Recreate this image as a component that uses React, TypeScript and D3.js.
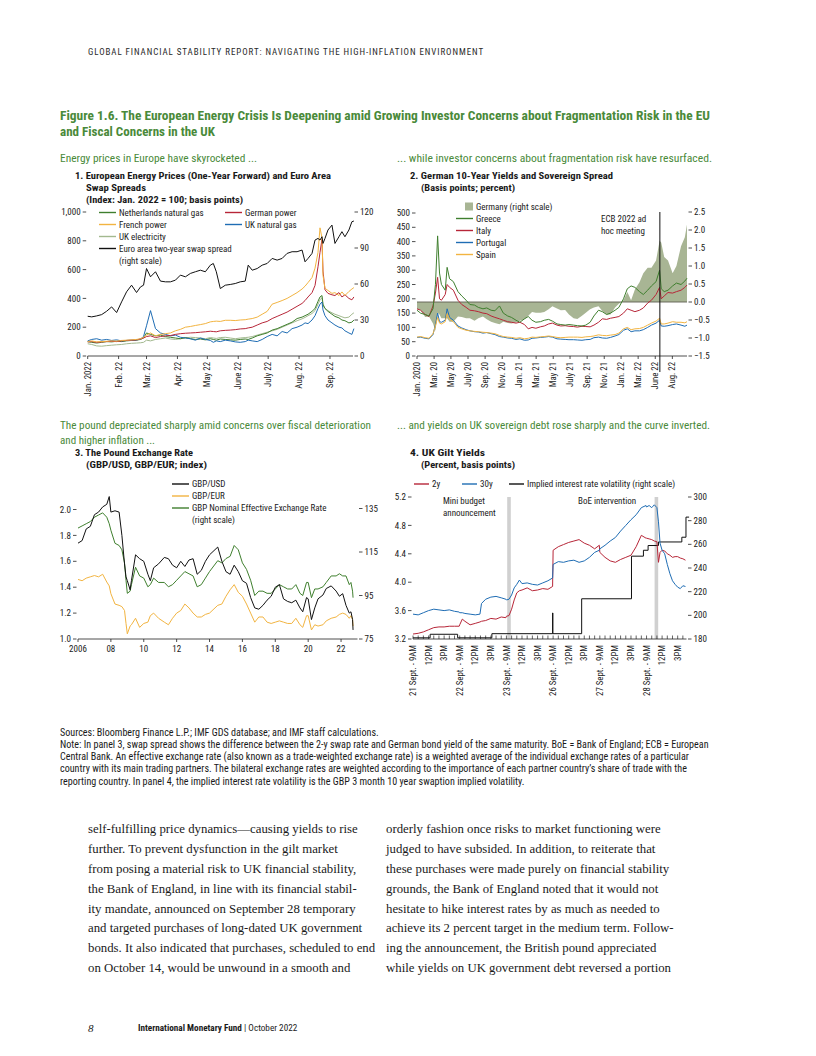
import React from "react";
import * as d3 from "d3";

const FONT = "'Liberation Sans Narrow','Arial Narrow','Roboto Condensed','DejaVu Sans Condensed','Liberation Sans',sans-serif";
const SERIF = "'Liberation Serif','DejaVu Serif',serif";
const GREEN_TXT = "#4a8a3a";
const C_GREEN = "#3f7f2e";
const C_ORANGE = "#f2b441";
const C_LIGHT = "#a3b98f";
const C_RED = "#b72638";
const C_BLUE = "#1f6db4";
const C_AREA = "#a8b594";
const C_GRAYBAND = "#d0d0d0";

const parse = d3.timeParse("%Y-%m-%d");

// ---------------- Panel 1: European energy prices (index) and swap spread (bp) ----------------
const p1Dates = [
  "2022-01-01","2022-01-05","2022-01-10","2022-01-15","2022-01-20","2022-01-25","2022-01-30",
  "2022-02-04","2022-02-09","2022-02-14","2022-02-19","2022-02-23","2022-02-26",
  "2022-03-01","2022-03-05","2022-03-10","2022-03-15","2022-03-20","2022-03-25","2022-03-30",
  "2022-04-04","2022-04-09","2022-04-14","2022-04-19","2022-04-24","2022-04-29",
  "2022-05-04","2022-05-07","2022-05-10","2022-05-14","2022-05-19","2022-05-24","2022-05-29",
  "2022-06-03","2022-06-08","2022-06-11","2022-06-15","2022-06-20","2022-06-25","2022-06-30",
  "2022-07-05","2022-07-10","2022-07-15","2022-07-20","2022-07-25","2022-07-30",
  "2022-08-04","2022-08-07","2022-08-10","2022-08-14","2022-08-17","2022-08-20","2022-08-22","2022-08-24","2022-08-25","2022-08-27","2022-08-30",
  "2022-09-03","2022-09-06","2022-09-10","2022-09-13","2022-09-16","2022-09-20","2022-09-23","2022-09-25"
];
const p1NetherlandsGas = [
  100,95,90,95,100,98,102,100,105,108,
  110,115,125,160,150,140,145,135,130,125,
  120,128,120,115,118,112,120,115,110,118,
  115,112,110,115,118,115,125,140,150,160,
  180,190,205,220,235,260,270,280,290,310,
  330,380,410,420,360,330,310,290,275,265,
  250,245,230,235,250
];
const p1FrenchPower = [
  100,105,98,100,102,105,103,108,110,112,
  115,120,130,145,160,140,150,155,160,175,
  185,200,205,212,218,225,237,240,242,240,
  248,248,246,250,252,256,260,270,290,310,
  360,372,385,400,420,440,465,485,510,545,
  610,720,890,820,560,470,455,435,440,420,
  445,420,448,465,475
];
const p1UkElectricity = [
  85,80,70,68,72,75,78,80,85,88,
  90,92,95,110,105,115,120,125,118,115,
  120,125,130,128,125,120,128,125,122,128,
  130,125,120,125,128,130,135,145,155,165,
  175,185,200,215,230,245,258,268,280,295,
  315,360,390,405,350,330,315,300,290,280,
  272,265,270,290,300
];
const p1GermanPower = [
  98,100,95,98,100,102,100,105,108,110,
  112,118,125,135,140,128,135,140,142,150,
  155,158,160,162,165,168,172,170,168,175,
  178,180,183,188,190,195,200,215,230,240,
  260,275,290,305,325,345,365,385,410,440,
  490,620,720,810,590,460,435,425,420,440,
  410,425,400,390,410
];
const p1UkGas = [
  105,115,120,110,115,108,112,105,108,110,
  112,118,135,210,315,190,160,150,140,145,
  130,125,120,110,125,115,108,95,105,100,
  110,105,98,95,100,110,105,100,115,135,
  150,140,170,160,190,200,215,230,225,250,
  280,330,360,375,320,280,250,230,215,200,
  195,175,160,150,190
];
const p1SwapSpread = [
  33.1,32.6,33.4,34.5,37.3,40.9,36.2,45.1,53.5,59.0,
  52.9,57.6,59.0,72.9,66.0,70.2,62.4,61.8,61.8,63.2,
  67.4,66.0,68.8,70.2,71.5,70.2,75.7,77.1,70.2,56.2,
  59.0,59.6,60.4,61.8,62.4,75.7,71.5,72.9,75.7,77.1,
  81.3,79.9,81.3,85.5,86.9,86.9,88.3,78.5,81.3,85.5,
  96.6,98.0,96.6,99.4,93.8,98.0,105.0,109.1,93.8,99.4,
  103.6,99.4,105.0,111.9,112.5
];
const p1MonthTicks = ["2022-01-01","2022-02-01","2022-03-01","2022-04-01","2022-05-01","2022-06-01","2022-07-01","2022-08-01","2022-09-01"];
const p1MonthLabels = ["Jan. 2022","Feb. 22","Mar. 22","Apr. 22","May 22","June 22","July 22","Aug. 22","Sep. 22"];
const p1LeftTicks = [0, 200, 400, 600, 800, 1000];
const p1RightTicks = [0, 30, 60, 90, 120];

// ---------------- Panel 2: German 10-year yield (%) and sovereign spreads (bp) ----------------
const p2Dates = [
  "2020-01-02","2020-01-15","2020-02-01","2020-02-15","2020-03-01","2020-03-10","2020-03-18","2020-03-25","2020-04-01","2020-04-15","2020-04-22","2020-05-01","2020-05-15","2020-06-01","2020-06-15","2020-07-01","2020-07-15","2020-08-01","2020-08-15","2020-09-01","2020-09-15","2020-10-01","2020-10-15","2020-11-01","2020-11-15","2020-12-01","2020-12-15",
  "2021-01-01","2021-01-15","2021-02-01","2021-02-15","2021-03-01","2021-03-15","2021-04-01","2021-04-15","2021-05-01","2021-05-15","2021-06-01","2021-06-15","2021-07-01","2021-07-15","2021-08-01","2021-08-15","2021-09-01","2021-09-15","2021-10-01","2021-10-15","2021-11-01","2021-11-15","2021-12-01","2021-12-15",
  "2022-01-01","2022-01-15","2022-02-01","2022-02-15","2022-03-01","2022-03-15","2022-04-01","2022-04-15","2022-05-01","2022-05-15","2022-06-01","2022-06-14","2022-06-20","2022-07-01","2022-07-15","2022-08-01","2022-08-15","2022-09-01","2022-09-15","2022-09-23"
];
const p2Germany = [
  -0.20,-0.22,-0.42,-0.40,-0.60,-0.80,-0.30,-0.35,-0.45,-0.45,-0.45,-0.55,-0.55,-0.40,-0.42,-0.45,-0.45,-0.52,-0.45,-0.40,-0.48,-0.55,-0.58,-0.62,-0.55,-0.58,-0.60,
  -0.57,-0.52,-0.48,-0.38,-0.28,-0.30,-0.30,-0.28,-0.20,-0.12,-0.18,-0.23,-0.22,-0.35,-0.45,-0.47,-0.38,-0.30,-0.20,-0.15,-0.12,-0.25,-0.35,-0.35,
  -0.15,-0.05,0.05,0.28,0.05,0.35,0.55,0.80,0.95,0.95,1.15,1.70,1.65,1.25,1.15,0.80,1.00,1.55,1.80,2.15
];
const p2Greece = [
  160,150,145,140,165,250,420,290,250,230,310,270,260,225,210,195,180,178,170,165,168,160,158,175,150,140,135,
  125,118,130,138,125,118,120,125,128,122,112,110,108,110,108,106,105,108,118,140,160,155,145,150,
  160,170,200,235,245,240,225,215,230,245,260,300,235,225,230,245,255,250,262,272
];
const p2Italy = [
  165,160,145,138,175,220,275,200,195,215,250,240,230,195,180,170,160,158,155,150,148,140,135,130,125,120,118,
  115,118,110,95,100,97,102,105,112,115,108,105,106,104,103,101,104,103,102,108,118,130,128,132,
  135,138,150,165,160,155,160,168,185,195,215,240,200,210,222,220,225,230,240,248
];
const p2Portugal = [
  65,66,62,60,75,110,150,120,118,125,165,135,125,105,98,92,88,85,84,80,82,78,75,68,66,63,62,
  58,60,55,56,62,63,65,66,68,66,60,59,58,57,57,56,55,57,58,64,66,63,62,65,
  70,75,90,95,85,88,88,92,100,108,115,125,105,104,106,110,112,108,104,108
];
const p2Spain = [
  66,68,64,62,78,105,135,115,112,120,148,128,120,100,95,90,88,86,85,83,82,80,78,72,68,66,65,
  62,64,60,62,66,65,67,68,70,68,65,64,65,66,66,66,65,67,68,70,74,72,71,73,
  75,80,95,100,92,95,96,100,108,115,122,132,112,112,115,120,118,118,116,120
];
const p2TickDates = ["2020-01-02","2020-03-05","2020-05-06","2020-07-08","2020-09-09","2020-11-11","2021-01-12","2021-03-16","2021-05-18","2021-07-19","2021-09-20","2021-11-22","2022-01-23","2022-03-27","2022-05-29","2022-07-31"];
const p2TickLabels = ["Jan. 2020","Mar. 20","May 20","July 20","Sep. 20","Nov. 20","Jan. 21","Mar. 21","May 21","July 21","Sep. 21","Nov. 21","Jan. 22","Mar. 22","June 22","Aug. 22"];
const p2LeftTicks = [0, 50, 100, 150, 200, 250, 300, 350, 400, 450, 500];
const p2RightTicks = [-1.5, -1.0, -0.5, 0, 0.5, 1.0, 1.5, 2.0, 2.5];
const p2EcbMeeting = "2022-06-15";

// ---------------- Panel 3: Pound exchange rate ----------------
const p3Years = [
  2006.0,2006.25,2006.5,2006.75,2007.0,2007.25,2007.5,2007.75,2007.9,
  2008.0,2008.25,2008.5,2008.67,2008.83,2008.92,
  2009.0,2009.17,2009.25,2009.5,2009.75,
  2010.0,2010.25,2010.4,2010.6,2010.9,
  2011.25,2011.5,2011.75,
  2012.0,2012.25,2012.5,2012.75,
  2013.0,2013.25,2013.5,2013.75,
  2014.0,2014.5,2014.75,
  2015.0,2015.25,2015.5,2015.75,
  2016.0,2016.25,2016.5,2016.75,
  2017.0,2017.25,2017.5,2017.75,
  2018.0,2018.25,2018.5,2018.75,
  2019.0,2019.25,2019.5,2019.67,2019.9,
  2020.0,2020.2,2020.4,2020.6,2020.9,
  2021.1,2021.4,2021.7,2021.9,
  2022.1,2022.3,2022.5,2022.6,2022.7,2022.73
];
const p3GbpUsd = [
  1.74,1.76,1.85,1.87,1.96,1.98,2.02,2.04,2.10,
  1.98,1.99,1.98,1.80,1.58,1.48,
  1.45,1.38,1.45,1.65,1.62,
  1.60,1.50,1.45,1.55,1.58,
  1.63,1.62,1.57,
  1.55,1.60,1.56,1.61,
  1.62,1.50,1.53,1.60,
  1.65,1.71,1.60,
  1.52,1.50,1.57,1.52,
  1.45,1.43,1.32,1.24,
  1.23,1.26,1.30,1.33,
  1.40,1.42,1.31,1.29,
  1.28,1.30,1.24,1.21,1.32,
  1.31,1.15,1.24,1.31,1.34,
  1.39,1.41,1.37,1.33,
  1.35,1.26,1.20,1.21,1.15,1.07
];
const p3GbpEur = [
  1.46,1.45,1.47,1.48,1.49,1.48,1.50,1.44,1.41,
  1.35,1.27,1.26,1.25,1.22,1.12,
  1.04,1.10,1.11,1.16,1.09,
  1.12,1.13,1.18,1.20,1.16,
  1.13,1.11,1.16,
  1.20,1.22,1.27,1.24,
  1.20,1.17,1.17,1.19,
  1.20,1.26,1.27,
  1.33,1.38,1.42,1.36,
  1.33,1.27,1.20,1.13,
  1.17,1.17,1.13,1.12,
  1.13,1.14,1.13,1.12,
  1.12,1.16,1.11,1.09,1.18,
  1.18,1.07,1.11,1.10,1.11,
  1.14,1.16,1.17,1.19,
  1.20,1.19,1.16,1.18,1.15,1.10
];
const p3Neer = [
  126,127,128,129,131,132,133,131,128,
  125,119,118,116,110,102,
  96,97,100,108,104,
  103,99,100,103,101,
  101,99,100,
  102,104,106,105,
  104,99,100,103,
  106,111,110,
  112,113,118,116,
  110,107,102,95,
  97,97,96,96,
  98,100,99,98,
  98,100,96,95,101,
  101,94,98,98,99,
  101,104,104,105,
  104,104,100,101,97,94
];
const p3TickYears = [2006, 2008, 2010, 2012, 2014, 2016, 2018, 2020, 2022];
const p3TickLabels = ["2006","08","10","12","14","16","18","20","22"];
const p3LeftTicks = [1.0, 1.2, 1.4, 1.6, 1.8, 2.0];
const p3RightTicks = [75, 95, 115, 135];

// ---------------- Panel 4: UK gilt yields (intraday, trading hours since 21 Sept 9AM) ----------------
const p4Hours = [
  0,1,2,3,4,5,6,7,8,8.9,
  9,9.5,10,11,12,12.9,13.2,14,15,16,17,17.9,
  18,18.5,19,19.5,20,20.5,21,22,23,24,25,26,26.9,
  27,28,29,30,31,32,33,34,35,35.9,
  36,37,38,39,40,41,42,43,44,44.9,
  45,45.5,46,46.5,47,47.3,47.6,48,48.5,49,49.5,50,50.5,51,51.5,52,52.5
];
const p4Yield2y = [
  3.27,3.28,3.30,3.33,3.36,3.37,3.37,3.38,3.38,3.38,
  3.40,3.48,3.45,3.40,3.42,3.44,3.45,3.46,3.49,3.48,3.51,3.50,
  3.52,3.53,3.62,3.75,3.85,3.88,3.89,3.92,3.88,3.89,3.91,3.90,3.94,
  4.45,4.50,4.53,4.56,4.58,4.60,4.55,4.52,4.47,4.52,
  4.42,4.35,4.30,4.28,4.32,4.35,4.38,4.50,4.66,4.62,
  4.62,4.61,4.60,4.58,4.57,4.28,4.42,4.45,4.44,4.40,4.38,4.35,4.36,4.36,4.34,4.33,4.31
];
const p4Yield30y = [
  3.55,3.54,3.57,3.60,3.62,3.61,3.60,3.61,3.59,3.58,
  3.57,3.57,3.56,3.55,3.54,3.55,3.70,3.76,3.79,3.80,3.78,3.76,
  3.75,3.76,3.82,3.92,3.97,4.03,3.98,3.99,3.97,3.96,3.99,4.02,4.06,
  4.25,4.29,4.28,4.30,4.31,4.28,4.30,4.35,4.42,4.45,
  4.47,4.52,4.58,4.63,4.72,4.80,4.88,4.95,5.05,5.08,
  5.06,5.08,5.05,5.09,5.05,4.85,4.55,4.45,4.40,4.25,4.12,4.02,3.97,3.93,3.91,3.95,3.94
];
const p4VolHours = [0, 3.3, 8.6, 15.2, 26.85, 26.9, 26.95, 32.5, 42.1, 44.4, 45.3, 47.3, 51.8, 52.6, 53.2];
const p4Vol = [181, 184, 181, 184.5, 184.5, 202, 184.5, 214, 250, 255, 259, 262, 266, 283, 283];
const p4LabelHours = [0,3,6,9,12,15,18,21,24,27,30,33,36,39,42,45,48,51];
const p4Labels = [
  "21 Sept. - 9AM","12PM","3PM","22 Sept. - 9AM","12PM","3PM","23 Sept. - 9AM","12PM","3PM",
  "26 Sept. - 9AM","12PM","3PM","27 Sept. - 9AM","12PM","3PM","28 Sept. - 9AM","12PM","3PM"
];
const p4LeftTicks = [3.2, 3.6, 4.0, 4.4, 4.8, 5.2];
const p4RightTicks = [180, 200, 220, 240, 260, 280, 300];
const p4MiniBudgetHour = 18.5;
const p4BoeHour = 46.9;

// ---------------- Text ----------------
const notes = [
  "Sources: Bloomberg Finance L.P.; IMF GDS database; and IMF staff calculations.",
  "Note: In panel 3, swap spread shows the difference between the 2-y swap rate and German bond yield of the same maturity. BoE = Bank of England; ECB = European",
  "Central Bank. An effective exchange rate (also known as a trade-weighted exchange rate) is a weighted average of the individual exchange rates of a particular",
  "country with its main trading partners. The bilateral exchange rates are weighted according to the importance of each partner country\u2019s share of trade with the",
  "reporting country. In panel 4, the implied interest rate volatility is the GBP 3 month 10 year swaption implied volatility."
];
const bodyLeft = [
  "self-fulfilling price dynamics\u2014causing yields to rise",
  "further. To prevent dysfunction in the gilt market",
  "from posing a material risk to UK financial stability,",
  "the Bank of England, in line with its financial stabil-",
  "ity mandate, announced on September 28 temporary",
  "and targeted purchases of long-dated UK government",
  "bonds. It also indicated that purchases, scheduled to end",
  "on October 14, would be unwound in a smooth and"
];
const bodyRight = [
  "orderly fashion once risks to market functioning were",
  "judged to have subsided. In addition, to reiterate that",
  "these purchases were made purely on financial stability",
  "grounds, the Bank of England noted that it would not",
  "hesitate to hike interest rates by as much as needed to",
  "achieve its 2 percent target in the medium term. Follow-",
  "ing the announcement, the British pound appreciated",
  "while yields on UK government debt reversed a portion"
];

// ---------------- helpers ----------------
function linePath(xv: any[], yv: number[], sx: any, sy: any, curve: any = d3.curveLinear) {
  const pts = xv.map((v, i) => [sx(v), sy(yv[i])] as [number, number]);
  return d3.line().curve(curve)(pts) || "";
}

function T(props: any) {
  const { x, y, children, size = 9, weight = "normal", anchor = "start", fill = "#1a1a1a", len, family = FONT, style, ls } = props;
  return (
    <text x={x} y={y} dy="0.35em" fontSize={size} fontWeight={weight} textAnchor={anchor} fill={fill}
      fontFamily={family} textLength={len} lengthAdjust={len ? "spacingAndGlyphs" : undefined} letterSpacing={ls} style={style}>
      {children}
    </text>
  );
}

function RotLabel({ x, y, text }: any) {
  return (
    <text transform={`translate(${x},${y}) rotate(-90)`} dy="0.35em" textAnchor="end" fontSize={8.8} fontFamily={FONT} fill="#1a1a1a">
      {text}
    </text>
  );
}

function LeftTicks({ x, sy, ticks, fmt }: any) {
  return (
    <g>
      {ticks.map((t: number) => (
        <g key={"l" + t}>
          <line x1={x - 5} x2={x - 1.5} y1={sy(t)} y2={sy(t)} stroke="#222" strokeWidth={0.8} />
          <T x={x - 7} y={sy(t)} anchor="end" size={9}>{fmt(t)}</T>
        </g>
      ))}
    </g>
  );
}
function RightTicks({ x, sy, ticks, fmt }: any) {
  return (
    <g>
      {ticks.map((t: number) => (
        <g key={"r" + t}>
          <line x1={x + 1.5} x2={x + 5} y1={sy(t)} y2={sy(t)} stroke="#222" strokeWidth={0.8} />
          <T x={x + 7} y={sy(t)} size={9}>{fmt(t)}</T>
        </g>
      ))}
    </g>
  );
}
function LegLine({ x, y, color, label, w = 17 }: any) {
  return (
    <g>
      <line x1={x} x2={x + w} y1={y} y2={y} stroke={color} strokeWidth={1.4} />
      <T x={x + w + 3} y={y} size={9}>{label}</T>
    </g>
  );
}

export default function App() {
  // ---- Panel 1 scales
  const p1x = d3.scaleTime().domain([parse("2022-01-01"), parse("2022-10-01")] as any).range([87.7, 87.7 + 273 * 0.997]);
  const p1yL = d3.scaleLinear().domain([0, 1000]).range([356, 212]);
  const p1yR = d3.scaleLinear().domain([0, 120]).range([356, 212]);
  const p1d = p1Dates.map((s) => parse(s));

  // ---- Panel 2 scales
  const p2x = d3.scaleTime().domain([parse("2020-01-02"), parse("2022-09-23")] as any).range([417, 687]);
  const p2yL = d3.scaleLinear().domain([0, 500]).range([356, 213]);
  const p2yR = d3.scaleLinear().domain([-1.5, 2.5]).range([356, 212]);
  const p2d = p2Dates.map((s) => parse(s));
  const germanyArea = d3.area<number>()
    .x((_, i) => p2x(p2d[i] as any))
    .y0(p2yR(0))
    .y1((v) => p2yR(v))(p2Germany) || "";

  // ---- Panel 3 scales
  const p3x = d3.scaleLinear().domain([2006, 2023]).range([78, 357.5]);
  const p3yL = d3.scaleLinear().domain([1.0, 2.0]).range([639, 509.5]);
  const p3yR = d3.scaleLinear().domain([75, 135]).range([639, 508.5]);

  // ---- Panel 4 scales
  const p4x = d3.scaleLinear().domain([0, 52.7]).range([413, 686.5]);
  const p4yL = d3.scaleLinear().domain([3.2, 5.2]).range([639, 497]);
  const p4yR = d3.scaleLinear().domain([180, 300]).range([639, 497]);

  const fmtComma = d3.format(",");
  const fmt1 = d3.format(".1f");
  const fmt0 = d3.format("d");

  return (
    <div style={{ position: "absolute", left: 0, top: 0, width: 816, height: 1056, background: "#fff" }}>
      <svg width={816} height={1056} viewBox="0 0 816 1056" style={{ display: "block" }}>
        <rect x={0} y={0} width={816} height={1056} fill="#fff" />

        {/* Header */}
        <T x={88} y={52} size={8.6} fill="#2a2a2a" ls={0.9} len={396}>GLOBAL FINANCIAL STABILITY REPORT: NAVIGATING THE HIGH-INFLATION ENVIRONMENT</T>

        {/* Figure title */}
        <T x={60} y={116} size={12.8} weight="bold" fill={GREEN_TXT} len={650}>Figure 1.6. The European Energy Crisis Is Deepening amid Growing Investor Concerns about Fragmentation Risk in the EU</T>
        <T x={60} y={132} size={12.8} weight="bold" fill={GREEN_TXT} len={155}>and Fiscal Concerns in the UK</T>

        {/* ================= Panel 1 ================= */}
        <T x={60} y={158} size={10.5} fill={GREEN_TXT} len={197}>Energy prices in Europe have skyrocketed ...</T>
        <T x={75} y={176} size={9.4} weight="bold" len={256}>1. European Energy Prices (One-Year Forward) and Euro Area</T>
        <T x={86} y={188} size={9.4} weight="bold" len={60}>Swap Spreads</T>
        <T x={86} y={200} size={9.4} weight="bold" len={157}>(Index: Jan. 2022 = 100; basis points)</T>

        <LeftTicks x={87.7} sy={p1yL} ticks={p1LeftTicks} fmt={fmtComma} />
        <RightTicks x={353} sy={p1yR} ticks={p1RightTicks} fmt={fmt0} />
        <line x1={87.7} x2={353} y1={356} y2={356} stroke="#222" strokeWidth={0.8} />
        {p1MonthTicks.map((m, i) => {
          const xx = p1x(parse(m) as any);
          return (
            <g key={m}>
              <line x1={xx} x2={xx} y1={356} y2={359} stroke="#222" strokeWidth={0.8} />
              <RotLabel x={xx} y={362} text={p1MonthLabels[i]} />
            </g>
          );
        })}
        <path d={linePath(p1d, p1UkElectricity, p1x, p1yL)} fill="none" stroke={C_LIGHT} strokeWidth={1} />
        <path d={linePath(p1d, p1NetherlandsGas, p1x, p1yL)} fill="none" stroke={C_GREEN} strokeWidth={1} />
        <path d={linePath(p1d, p1UkGas, p1x, p1yL)} fill="none" stroke={C_BLUE} strokeWidth={1} />
        <path d={linePath(p1d, p1GermanPower, p1x, p1yL)} fill="none" stroke={C_RED} strokeWidth={1} />
        <path d={linePath(p1d, p1FrenchPower, p1x, p1yL)} fill="none" stroke={C_ORANGE} strokeWidth={1} />
        <path d={linePath(p1d, p1SwapSpread, p1x, p1yR)} fill="none" stroke="#111" strokeWidth={1} />

        <LegLine x={99} y={212.5} color={C_GREEN} label="Netherlands natural gas" />
        <LegLine x={99} y={224.5} color={C_ORANGE} label="French power" />
        <LegLine x={99} y={236.5} color={C_LIGHT} label="UK electricity" />
        <LegLine x={99} y={248.5} color="#111" label="Euro area two-year swap spread" />
        <T x={119} y={260.5} size={9}>(right scale)</T>
        <LegLine x={225} y={212.5} color={C_RED} label="German power" />
        <LegLine x={225} y={224.5} color={C_BLUE} label="UK natural gas" />

        {/* ================= Panel 2 ================= */}
        <T x={397} y={158} size={10.5} fill={GREEN_TXT} len={315}>... while investor concerns about fragmentation risk have resurfaced.</T>
        <T x={410} y={176} size={9.4} weight="bold" len={203}>2. German 10-Year Yields and Sovereign Spread</T>
        <T x={421} y={188} size={9.4} weight="bold" len={94}>(Basis points; percent)</T>

        <path d={germanyArea} fill={C_AREA} stroke="none" />
        <line x1={417} x2={687} y1={p2yR(0)} y2={p2yR(0)} stroke="#5d5d50" strokeWidth={0.9} />
        <LeftTicks x={417} sy={p2yL} ticks={p2LeftTicks} fmt={fmt0} />
        <RightTicks x={687} sy={p2yR} ticks={p2RightTicks} fmt={fmt1} />
        <line x1={417} x2={687} y1={356} y2={356} stroke="#222" strokeWidth={0.8} />
        {p2TickDates.map((m, i) => {
          const xx = p2x(parse(m) as any);
          return (
            <g key={m}>
              <line x1={xx} x2={xx} y1={356} y2={359} stroke="#222" strokeWidth={0.8} />
              <RotLabel x={xx} y={362} text={p2TickLabels[i]} />
            </g>
          );
        })}
        <path d={linePath(p2d, p2Portugal, p2x, p2yL)} fill="none" stroke={C_BLUE} strokeWidth={1} />
        <path d={linePath(p2d, p2Spain, p2x, p2yL)} fill="none" stroke={C_ORANGE} strokeWidth={1} />
        <path d={linePath(p2d, p2Italy, p2x, p2yL)} fill="none" stroke={C_RED} strokeWidth={1} />
        <path d={linePath(p2d, p2Greece, p2x, p2yL)} fill="none" stroke={C_GREEN} strokeWidth={1} />
        {(() => {
          const ex = p2x(parse(p2EcbMeeting) as any);
          return <line x1={ex} x2={ex} y1={212} y2={372} stroke="#111" strokeWidth={1} />;
        })()}
        <T x={601} y={219} size={9}>ECB 2022 ad</T>
        <T x={601} y={231} size={9}>hoc meeting</T>

        <rect x={465} y={202.5} width={8} height={8} fill={C_AREA} />
        <T x={476} y={206.5} size={9}>Germany (right scale)</T>
        <LegLine x={456} y={218.5} color={C_GREEN} label="Greece" />
        <LegLine x={456} y={230.5} color={C_RED} label="Italy" />
        <LegLine x={456} y={242.5} color={C_BLUE} label="Portugal" />
        <LegLine x={456} y={254.5} color={C_ORANGE} label="Spain" />

        {/* ================= Panel 3 ================= */}
        <T x={60} y={425} size={10.5} fill={GREEN_TXT} len={311}>The pound depreciated sharply amid concerns over fiscal deterioration</T>
        <T x={60} y={440} size={10.5} fill={GREEN_TXT} len={95}>and higher inflation ...</T>
        <T x={75} y={453} size={9.4} weight="bold" len={118}>3. The Pound Exchange Rate</T>
        <T x={86} y={465} size={9.4} weight="bold" len={121}>(GBP/USD, GBP/EUR; index)</T>

        <LeftTicks x={78} sy={p3yL} ticks={p3LeftTicks} fmt={fmt1} />
        <RightTicks x={357.5} sy={p3yR} ticks={p3RightTicks} fmt={fmt0} />
        <line x1={78} x2={357.5} y1={639} y2={639} stroke="#222" strokeWidth={0.8} />
        {p3TickYears.map((yr, i) => (
          <g key={yr}>
            <line x1={p3x(yr)} x2={p3x(yr)} y1={639} y2={642} stroke="#222" strokeWidth={0.8} />
            <T x={p3x(yr)} y={649} anchor="middle" size={9}>{p3TickLabels[i]}</T>
          </g>
        ))}
        <path d={linePath(p3Years, p3GbpEur, p3x, p3yL)} fill="none" stroke={C_ORANGE} strokeWidth={1} />
        <path d={linePath(p3Years, p3Neer, p3x, p3yR)} fill="none" stroke={C_GREEN} strokeWidth={1} />
        <path d={linePath(p3Years, p3GbpUsd, p3x, p3yL)} fill="none" stroke="#111" strokeWidth={1} />

        <LegLine x={172} y={484} color="#111" label="GBP/USD" />
        <LegLine x={172} y={496} color={C_ORANGE} label="GBP/EUR" />
        <LegLine x={172} y={508} color={C_GREEN} label="GBP Nominal Effective Exchange Rate" />
        <T x={192} y={520} size={9}>(right scale)</T>

        {/* ================= Panel 4 ================= */}
        <T x={397} y={425} size={10.5} fill={GREEN_TXT} len={313}>... and yields on UK sovereign debt rose sharply and the curve inverted.</T>
        <T x={410} y={453} size={9.4} weight="bold" len={75}>4. UK Gilt Yields</T>
        <T x={421} y={465} size={9.4} weight="bold" len={94}>(Percent, basis points)</T>

        <rect x={p4x(p4MiniBudgetHour) - 1.8} y={497} width={3.6} height={142} fill={C_GRAYBAND} />
        <rect x={p4x(p4BoeHour) - 1.8} y={497} width={3.6} height={142} fill={C_GRAYBAND} />
        <LeftTicks x={413} sy={p4yL} ticks={p4LeftTicks} fmt={fmt1} />
        <RightTicks x={686.5} sy={p4yR} ticks={p4RightTicks} fmt={fmt0} />
        <line x1={413} x2={686.5} y1={639} y2={639} stroke="#222" strokeWidth={0.8} />
        {d3.range(0, 53).map((h) => (
          <line key={"h" + h} x1={p4x(h)} x2={p4x(h)} y1={639} y2={635.5} stroke="#222" strokeWidth={0.7} />
        ))}
        {p4LabelHours.map((h, i) => (
          <RotLabel key={"lab" + i} x={p4x(h)} y={645} text={p4Labels[i]} />
        ))}
        <path d={linePath(p4VolHours, p4Vol, p4x, p4yR, d3.curveStepAfter)} fill="none" stroke="#111" strokeWidth={1} />
        <path d={linePath(p4Hours, p4Yield2y, p4x, p4yL)} fill="none" stroke={C_RED} strokeWidth={1} />
        <path d={linePath(p4Hours, p4Yield30y, p4x, p4yL)} fill="none" stroke={C_BLUE} strokeWidth={1} />

        <T x={443} y={500.5} size={9}>Mini budget</T>
        <T x={443} y={513} size={9}>announcement</T>
        <T x={578} y={500.5} size={9}>BoE intervention</T>

        <LegLine x={414} y={484} color={C_RED} label="2y" w={15} />
        <LegLine x={462} y={484} color={C_BLUE} label="30y" w={15} />
        <LegLine x={509} y={484} color="#111" label="Implied interest rate volatility (right scale)" w={15} />

        {/* Notes */}
        {notes.map((n, i) => (
          <T key={"n" + i} x={60} y={732 + i * 12.25} size={10.1}>{n}</T>
        ))}

        {/* Body text */}
        {bodyLeft.map((l, i) => (
          <T key={"bl" + i} x={88} y={828.5 + i * 19.9} size={12.8} family={SERIF}>{l}</T>
        ))}
        {bodyRight.map((l, i) => (
          <T key={"br" + i} x={386} y={828.5 + i * 19.9} size={12.8} family={SERIF}>{l}</T>
        ))}

        {/* Footer */}
        <T x={88} y={1028} size={11} family={SERIF} style={{ fontStyle: "italic" }}>8</T>
        <text x={138} y={1028} dy="0.35em" fontSize={9.2} fontFamily={FONT} fill="#1a1a1a">
          <tspan fontWeight="bold">International Monetary Fund</tspan>
          <tspan> | October 2022</tspan>
        </text>
      </svg>
    </div>
  );
}
